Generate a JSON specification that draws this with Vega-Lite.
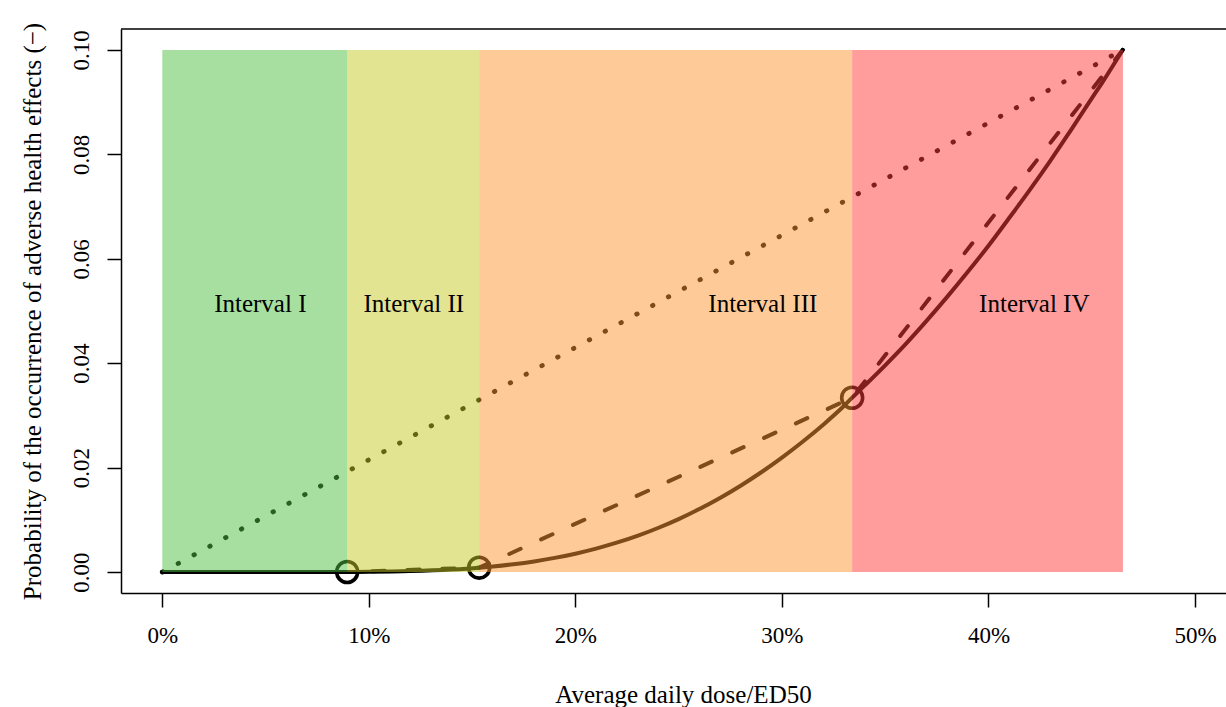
{
  "$schema": "https://vega.github.io/schema/vega-lite/v6.json",
  "width": 1105,
  "height": 564,
  "autosize": {"type": "none"},
  "padding": {"left": 121, "top": 29, "right": 0, "bottom": 114},
  "background": "white",
  "view": {"stroke": null},
  "config": {"font": "Liberation Serif"},
  "encoding": {
    "x": {
      "field": "x", "type": "quantitative",
      "scale": {"domain": [-0.02, 0.515], "nice": false, "zero": false},
      "axis": {
        "values": [0, 0.1, 0.2, 0.3, 0.4, 0.5], "format": ".0%",
        "title": "Average daily dose/ED50", "grid": false,
        "domainColor": "black", "domainWidth": 1.5,
        "tickColor": "black", "tickWidth": 1.5, "tickSize": 14,
        "labelFont": "Liberation Serif", "labelFontSize": 23, "labelColor": "black", "labelPadding": 17, "labelFlush": false,
        "titleFont": "Liberation Serif", "titleFontSize": 25, "titleFontWeight": "normal", "titleColor": "black",
        "titlePadding": 35, "titleX": 562, "titleAlign": "center"
      }
    },
    "y": {
      "field": "y", "type": "quantitative",
      "scale": {"domain": [-0.004, 0.104], "nice": false, "zero": false},
      "axis": {
        "values": [0, 0.02, 0.04, 0.06, 0.08, 0.1], "format": ".2f",
        "title": "Probability of the occurrence of adverse health effects (−)", "grid": false,
        "domainColor": "black", "domainWidth": 1.5,
        "tickColor": "black", "tickWidth": 1.5, "tickSize": 14,
        "labelFont": "Liberation Serif", "labelFontSize": 23, "labelColor": "black",
        "labelAngle": 270, "labelAlign": "center", "labelBaseline": "bottom", "labelPadding": 14, "labelFlush": false,
        "titleFont": "Liberation Serif", "titleFontSize": 25, "titleFontWeight": "normal", "titleColor": "black",
        "titlePadding": 25
      }
    }
  },
  "layer": [
    {
      "data": {"values": [
        {"x": 0, "y": 0}, {"x": 0.02, "y": 0}, {"x": 0.04, "y": 0}, {"x": 0.06, "y": 0.000001},
        {"x": 0.08, "y": 0.000012}, {"x": 0.0895, "y": 0.000027}, {"x": 0.10, "y": 0.000058},
        {"x": 0.12, "y": 0.000193}, {"x": 0.14, "y": 0.0005}, {"x": 0.1534, "y": 0.00085},
        {"x": 0.16, "y": 0.00108}, {"x": 0.17, "y": 0.00151}, {"x": 0.18, "y": 0.00205},
        {"x": 0.19, "y": 0.00272}, {"x": 0.20, "y": 0.00353}, {"x": 0.21, "y": 0.0045},
        {"x": 0.22, "y": 0.00563}, {"x": 0.23, "y": 0.00694}, {"x": 0.24, "y": 0.00845},
        {"x": 0.25, "y": 0.01015}, {"x": 0.26, "y": 0.01207}, {"x": 0.27, "y": 0.0142},
        {"x": 0.28, "y": 0.01655}, {"x": 0.29, "y": 0.01912}, {"x": 0.30, "y": 0.02192},
        {"x": 0.31, "y": 0.02496}, {"x": 0.32, "y": 0.02823}, {"x": 0.33, "y": 0.0318},
        {"x": 0.334, "y": 0.0334}, {"x": 0.34, "y": 0.0357}, {"x": 0.35, "y": 0.0396},
        {"x": 0.36, "y": 0.0437}, {"x": 0.37, "y": 0.0481}, {"x": 0.38, "y": 0.0527},
        {"x": 0.39, "y": 0.0575}, {"x": 0.40, "y": 0.0625}, {"x": 0.41, "y": 0.0678},
        {"x": 0.42, "y": 0.0732}, {"x": 0.43, "y": 0.0788}, {"x": 0.44, "y": 0.0847},
        {"x": 0.45, "y": 0.0907}, {"x": 0.455, "y": 0.0937}, {"x": 0.465, "y": 0.1}
      ]},
      "mark": {"type": "line", "color": "black", "strokeWidth": 4, "strokeCap": "round", "interpolate": "monotone"}
    },
    {
      "data": {"values": [
        {"x": 0, "y": 0}, {"x": 0.0895, "y": 0.000027}, {"x": 0.1534, "y": 0.00085},
        {"x": 0.334, "y": 0.0334}, {"x": 0.465, "y": 0.1}
      ]},
      "mark": {"type": "line", "color": "black", "strokeWidth": 4, "strokeCap": "round", "strokeDash": [12.5, 22.5]}
    },
    {
      "data": {"values": [{"x": 0, "y": 0}, {"x": 0.465, "y": 0.1}]},
      "mark": {"type": "line", "color": "black", "strokeWidth": 4.8, "strokeCap": "round", "strokeDash": [0.5, 17.5]}
    },
    {
      "data": {"values": [
        {"x": 0.0895, "y": 0.00003}, {"x": 0.1534, "y": 0.00085}, {"x": 0.334, "y": 0.0334}
      ]},
      "mark": {"type": "point", "shape": "circle", "filled": false, "color": "black", "strokeWidth": 3.6, "size": 440, "opacity": 1}
    },
    {
      "data": {"values": [
        {"x": 0, "x2": 0.0895, "y": 0, "y2": 0.1, "interval": "I"},
        {"x": 0.0895, "x2": 0.1534, "y": 0, "y2": 0.1, "interval": "II"},
        {"x": 0.1534, "x2": 0.334, "y": 0, "y2": 0.1, "interval": "III"},
        {"x": 0.334, "x2": 0.4651, "y": 0, "y2": 0.1, "interval": "IV"}
      ]},
      "mark": {"type": "rect", "opacity": 0.5},
      "encoding": {
        "x2": {"field": "x2"},
        "y2": {"field": "y2"},
        "color": {"field": "interval", "type": "nominal",
          "scale": {"domain": ["I", "II", "III", "IV"], "range": ["#4DBF3F", "#C5C925", "#FD9731", "#FF3B3B"]},
          "legend": null}
      }
    },
    {
      "data": {"values": [
        {"x": 0.04745, "y": 0.0498, "label": "Interval I"},
        {"x": 0.12177, "y": 0.0498, "label": "Interval II"},
        {"x": 0.29075, "y": 0.0498, "label": "Interval III"},
        {"x": 0.42219, "y": 0.0498, "label": "Interval IV"}
      ]},
      "mark": {"type": "text", "font": "Liberation Serif", "fontSize": 25, "color": "black", "align": "center", "baseline": "alphabetic"},
      "encoding": {"text": {"field": "label", "type": "nominal"}}
    },
    {
      "data": {"values": [{"x": -0.02, "x2": 0.515, "y": 0.104}]},
      "mark": {"type": "rule", "color": "black", "strokeWidth": 1.5},
      "encoding": {"x2": {"field": "x2"}}
    }
  ]
}
